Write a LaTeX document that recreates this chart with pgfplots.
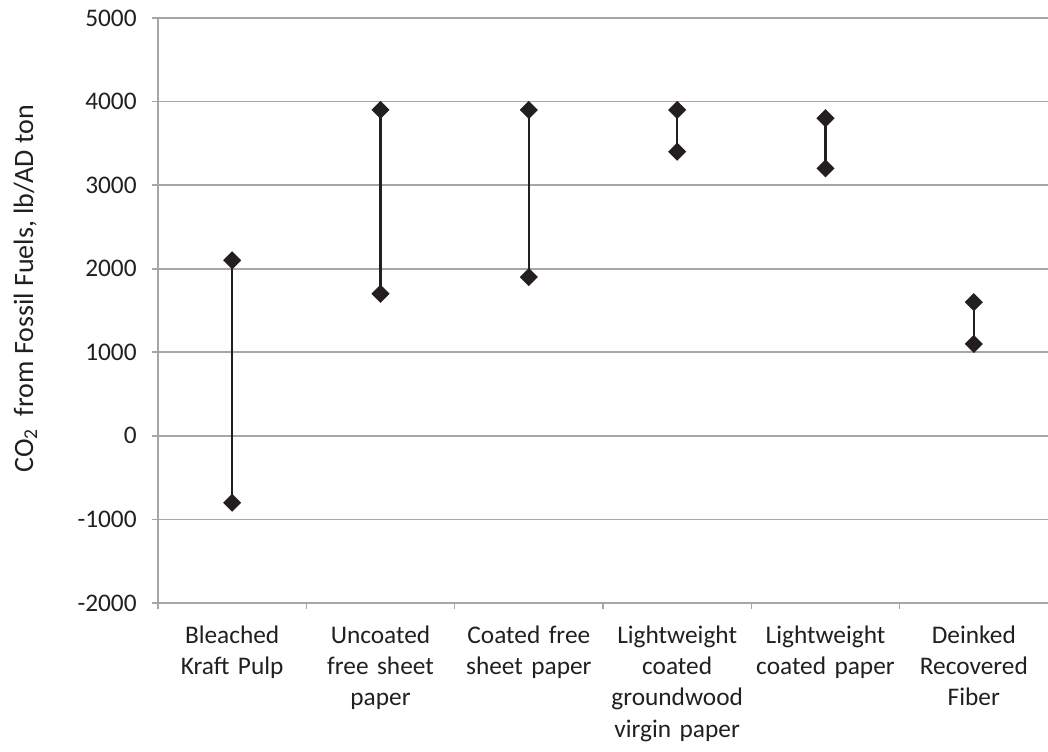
\documentclass[border=0pt]{standalone}
\usepackage{pgfplots}
\pgfplotsset{compat=1.18}
\usepackage{fontspec}
\setmainfont{Carlito}
\definecolor{gridgray}{RGB}{166,166,166}
\definecolor{ink}{RGB}{35,31,32}
\pgfplotsset{range/.style={ink, solid, line width=1.6pt, mark=square*, mark size=4pt, mark options={rotate=45, fill=ink, draw=ink, solid}}}
\begin{document}
\begin{tikzpicture}
    \begin{axis}[
        scale only axis,
        width=667.5pt, height=438.75pt,
        xmin=-0.5, xmax=5.5,
        ymin=-2000, ymax=5000,
        axis lines*=left,
        axis line style={gridgray, line width=1.2pt},
        ytick={-2000,-1000,0,1000,2000,3000,4000,5000},
        yticklabels={-2000,-1000,0,1000,2000,3000,4000,5000},
        ymajorgrids,
        grid style={gridgray, line width=1.2pt},
        xtick={0,1,2,3,4,5},
        xticklabels={Bleached Kraft Pulp, Uncoated free sheet paper, Coated free sheet paper, Lightweight coated groundwood virgin paper, Lightweight coated paper, Deinked Recovered Fiber},
        minor xtick={-0.5,0.5,1.5,2.5,3.5,4.5},
        tick align=outside,
        major tick length=4.5pt,
        minor tick length=4.5pt,
        x tick style={draw=none},
        minor x tick style={draw=gridgray, line width=1.2pt},
        y tick style={gridgray, line width=1.2pt},
        tick label style={font=\fontsize{19}{23.5}\selectfont, text=ink},
        xticklabel style={text width=112pt, align=center, anchor=north, yshift=-9pt},
        yticklabel style={xshift=-8pt},
        ylabel={CO\textsubscript{2}\ \ from Fossil Fuels, lb/AD ton},
        ylabel style={font=\fontsize{21}{25}\selectfont, text=ink, at={(axis description cs:-0.149,0.537)}, anchor=center},
        clip=false,
    ]
        % low and high value for each paper grade
        \addplot[range] coordinates {(0,-800) (0,2100)};
        \addplot[range] coordinates {(1,1700) (1,3900)};
        \addplot[range] coordinates {(2,1900) (2,3900)};
        \addplot[range] coordinates {(3,3400) (3,3900)};
        \addplot[range] coordinates {(4,3200) (4,3800)};
        \addplot[range] coordinates {(5,1100) (5,1600)};
    \end{axis}
    \pgfresetboundingbox
    \path (-118.5pt,-111pt) rectangle (667.5pt,452.25pt);
\end{tikzpicture}
\end{document}
